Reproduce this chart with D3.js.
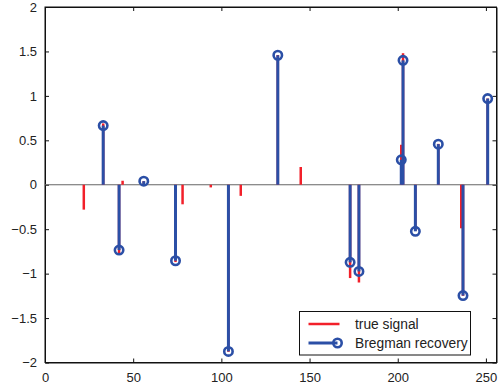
<!DOCTYPE html>
<html>
<head>
<meta charset="utf-8">
<script src="https://cdn.jsdelivr.net/npm/d3@7"></script>
<style>
  body { margin: 0; background: #fff; }
  svg text { font-family: "Liberation Sans", Arial, Helvetica, sans-serif; fill: #222; }
</style>
</head>
<body>
<div id="chart"></div>
<script>
// true signal (red stems)
const trueIdx = [22, 33, 42, 44, 56, 74, 78, 94, 104, 111, 132, 145, 173, 178, 202, 203, 210, 223, 236, 237, 251];
const trueVal = [-0.28, 0.69, -0.78, 0.045, 0.04, -0.87, -0.22, -0.03, -1.88, -0.125, 1.46, 0.2, -1.05, -1.10, 0.45, 1.48, -0.52, 0.46, -0.49, -1.25, 0.97];

// Bregman recovery (blue stems with circles)
const recIdx = [33, 42, 56, 74, 104, 132, 173, 178, 202, 203, 210, 223, 237, 251];
const recVal = [0.666, -0.735, 0.04, -0.855, -1.875, 1.457, -0.873, -0.975, 0.28, 1.40, -0.524, 0.457, -1.247, 0.97];

const xTicks = [0, 50, 100, 150, 200, 250];
const yTicks = [-2, -1.5, -1, -0.5, 0, 0.5, 1, 1.5, 2];
const legendLabels = ["true signal", "Bregman recovery"];

const width = 500, height = 387;
const margin = {left: 45, right: 3.5, top: 7, bottom: 24.5};
const red = "#f2202a", blue = "#2b4fa6";

const svg = d3.select("#chart").append("svg")
  .attr("width", width).attr("height", height);

const x = d3.scaleLinear().domain([0, 256]).range([margin.left, width - margin.right]);
const y = d3.scaleLinear().domain([-2, 2]).range([height - margin.bottom, margin.top]);

const fmt = d => d < 0 ? "\u2212" + Math.abs(d) : String(d);

// axes, ticks inward on all four sides
svg.append("g")
  .attr("transform", `translate(0,${y(-2)})`)
  .call(d3.axisBottom(x).tickValues(xTicks).tickSizeInner(-4).tickSizeOuter(0).tickPadding(10).tickFormat(fmt))
  .call(g => g.selectAll("text").attr("font-size", 13));
svg.append("g")
  .attr("transform", `translate(0,${y(2)})`)
  .call(d3.axisTop(x).tickValues(xTicks).tickSizeInner(-4).tickSizeOuter(0).tickFormat(""));
svg.append("g")
  .attr("transform", `translate(${x(0)},0)`)
  .call(d3.axisLeft(y).tickValues(yTicks).tickSizeInner(-4).tickSizeOuter(0).tickPadding(8).tickFormat(fmt))
  .call(g => g.selectAll("text").attr("font-size", 13));
svg.append("g")
  .attr("transform", `translate(${x(256)},0)`)
  .call(d3.axisRight(y).tickValues(yTicks).tickSizeInner(-4).tickSizeOuter(0).tickFormat(""));
svg.selectAll(".domain").attr("stroke", "#111");
svg.selectAll(".tick line").attr("stroke", "#111");

// box
svg.append("rect")
  .attr("x", x(0)).attr("y", y(2))
  .attr("width", x(256) - x(0)).attr("height", y(-2) - y(2))
  .attr("fill", "none").attr("stroke", "#111").attr("stroke-width", 1);

// baseline
svg.append("line")
  .attr("x1", x(0)).attr("x2", x(256))
  .attr("y1", y(0)).attr("y2", y(0))
  .attr("stroke", "#666").attr("stroke-width", 1);

// red stems
svg.append("g").selectAll("line")
  .data(trueIdx)
  .join("line")
  .attr("x1", d => x(d)).attr("x2", d => x(d))
  .attr("y1", y(0)).attr("y2", (d, i) => y(trueVal[i]))
  .attr("stroke", red).attr("stroke-width", 2.5);

// blue stems
svg.append("g").selectAll("line")
  .data(recIdx)
  .join("line")
  .attr("x1", d => x(d)).attr("x2", d => x(d))
  .attr("y1", y(0)).attr("y2", (d, i) => y(recVal[i]))
  .attr("stroke", blue).attr("stroke-width", 3);

svg.append("g").selectAll("circle")
  .data(recIdx)
  .join("circle")
  .attr("cx", d => x(d)).attr("cy", (d, i) => y(recVal[i]))
  .attr("r", 4.2)
  .attr("fill", "none").attr("stroke", blue).attr("stroke-width", 2.6);

// legend
const leg = svg.append("g").attr("transform", "translate(299.5,311.5)");
leg.append("rect").attr("width", 171).attr("height", 43.5)
  .attr("fill", "#fff").attr("stroke", "#111").attr("stroke-width", 1);
leg.append("line").attr("x1", 9).attr("x2", 40).attr("y1", 12.5).attr("y2", 12.5)
  .attr("stroke", red).attr("stroke-width", 2.5);
leg.append("line").attr("x1", 9).attr("x2", 38).attr("y1", 31.5).attr("y2", 31.5)
  .attr("stroke", blue).attr("stroke-width", 3);
leg.append("circle").attr("cx", 38).attr("cy", 31.5).attr("r", 4.2)
  .attr("fill", "none").attr("stroke", blue).attr("stroke-width", 2.6);
leg.selectAll("text.lab")
  .data(legendLabels)
  .join("text")
  .attr("class", "lab")
  .attr("x", 55.5).attr("y", (d, i) => 17.5 + i * 19)
  .attr("font-size", 13.8)
  .text(d => d);
</script>
</body>
</html>
